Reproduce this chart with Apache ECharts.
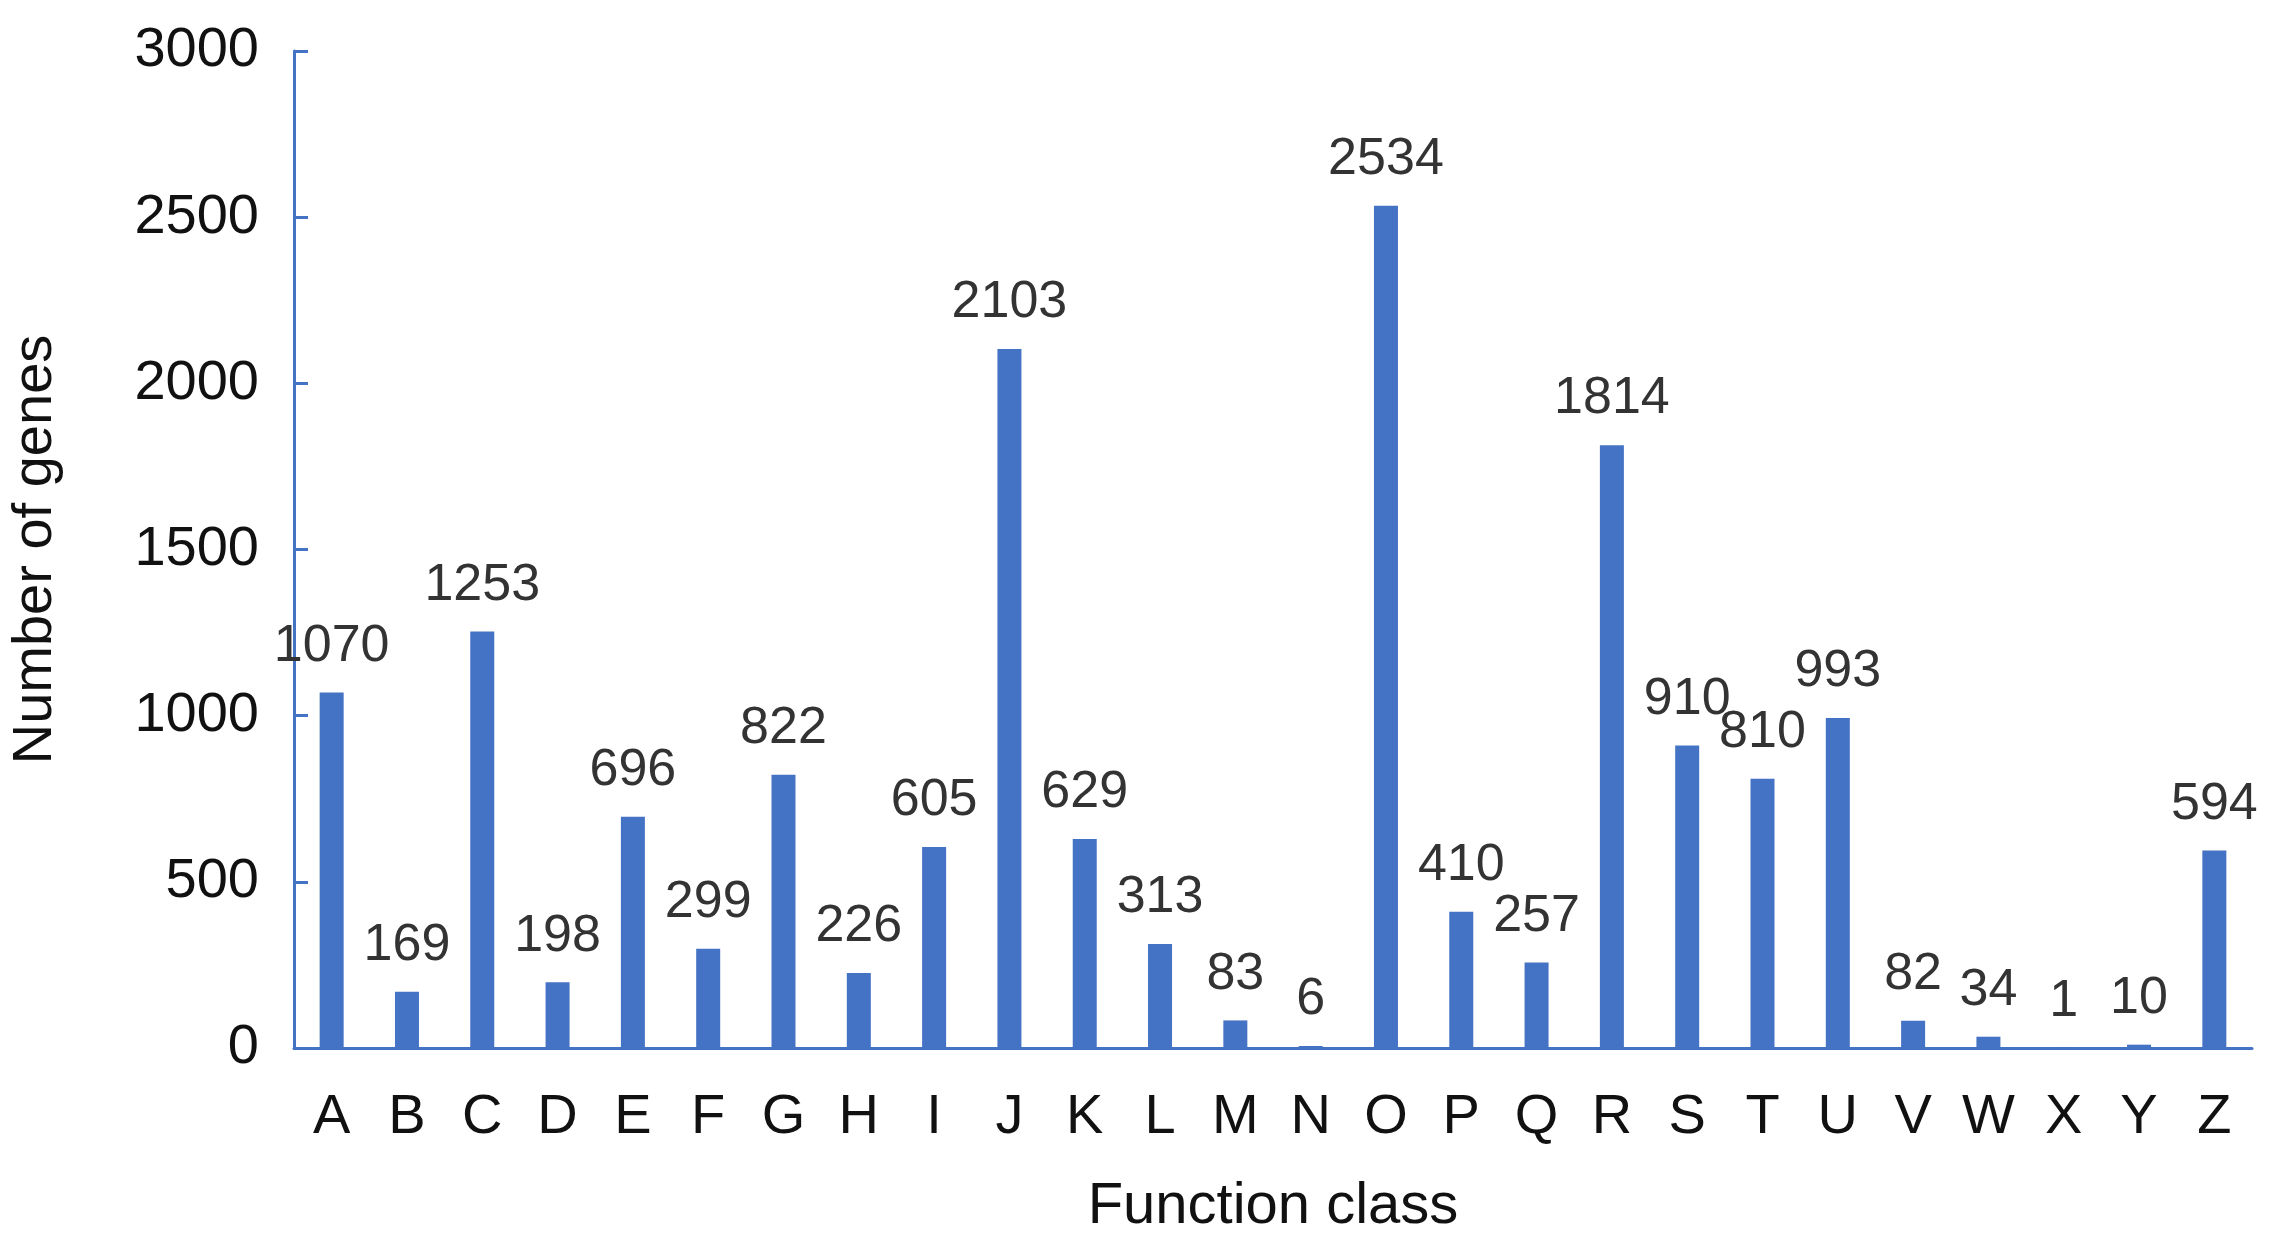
<!DOCTYPE html>
<html>
<head>
<meta charset="utf-8">
<script src="https://cdn.jsdelivr.net/npm/echarts@6/dist/echarts.min.js"></script>
<style>html,body{margin:0;background:#fff}#main{width:2286px;height:1251px}</style>
</head>
<body>
<div id="main"></div>
<script>
var categories = ['A','B','C','D','E','F','G','H','I','J','K','L','M','N','O','P','Q','R','S','T','U','V','W','X','Y','Z'];
var genes = [1070,169,1253,198,696,299,822,226,605,2103,629,313,83,6,2534,410,257,1814,910,810,993,82,34,1,10,594];

var myChart = echarts.init(document.getElementById('main'));

var option = {
    animation: false,
    grid: {left: 288, right: 34, top: 51, bottom: 203},
    xAxis: {
        type: 'category',
        data: categories,
        name: 'Function class',
        nameLocation: 'middle',
        nameGap: 130,
        nameTextStyle: {fontSize: 58, color: '#111', fontFamily: 'Liberation Sans'},
        axisLine: {lineStyle: {color: '#4472C4', width: 3}},
        axisTick: {show: false},
        axisLabel: {fontSize: 56, color: '#111', margin: 42, fontFamily: 'Liberation Sans'}
    },
    yAxis: {
        type: 'value',
        min: 0,
        max: 3000,
        interval: 500,
        name: 'Number of genes',
        nameLocation: 'middle',
        nameGap: 230,
        nameTextStyle: {fontSize: 56, color: '#111', fontFamily: 'Liberation Sans'},
        splitLine: {show: false},
        axisLine: {show: true, lineStyle: {color: '#4472C4', width: 3}},
        axisTick: {show: true, inside: true, length: 14, lineStyle: {color: '#4472C4', width: 3}},
        axisLabel: {
            fontSize: 56, color: '#111', margin: 35, fontFamily: 'Liberation Sans',
            formatter: function (v) { return String(v); }
        }
    },
    series: [{
        type: 'bar',
        data: genes,
        barWidth: 24,
        itemStyle: {color: '#4472C4'},
        label: {
            show: true,
            position: 'top',
            distance: 20,
            fontSize: 52,
            color: '#333',
            fontFamily: 'Liberation Sans'
        }
    }]
};
myChart.setOption(option);
</script>
</body>
</html>
